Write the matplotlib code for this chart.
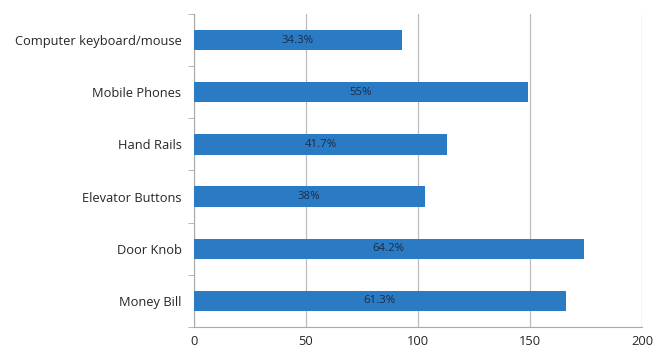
import matplotlib.pyplot as plt
import numpy as np

categories = ["Money Bill", "Door Knob", "Elevator Buttons", "Hand Rails",
              "Mobile Phones", "Computer keyboard/mouse"]
counts = [166, 174, 103, 113, 149, 93]
pct_labels = ["61.3%", "64.2%", "38%", "41.7%", "55%", "34.3%"]

plt.rcParams['font.family'] = ['Open Sans', 'DejaVu Sans']

fig = plt.figure(figsize=(6.55, 3.5), dpi=100)
ax = fig.add_axes([0.296, 0.066, 0.684, 0.894])

y = np.arange(len(categories))
bars = ax.barh(y, counts, height=0.39, color="#2a7bc4", zorder=3)
for b, lab in zip(bars, pct_labels):
    ax.text(b.get_width() / 2, b.get_y() + b.get_height() / 2, lab,
            ha="center", va="center", fontsize=8.2, color="#1c2b48", zorder=4)

ax.set_xlim(0, 200)
ax.set_ylim(-0.5, len(categories) - 0.5)
ax.set_xticks([0, 50, 100, 150, 200])
ax.set_yticks(y)
ax.set_yticklabels(categories, fontsize=9.3, color="#262626")
ax.set_yticks(np.arange(-0.5, len(categories), 1), minor=True)
ax.tick_params(axis="y", which="major", length=0, pad=9)
ax.tick_params(axis="y", which="minor", length=4, color="#aaaaaa")
ax.tick_params(axis="x", length=0, labelsize=9.3, labelcolor="#262626", pad=6)
ax.grid(axis="x", color="#bdbdbd", linewidth=0.9, zorder=0)

for s in ["top", "right"]:
    ax.spines[s].set_visible(False)
for s in ["left", "bottom"]:
    ax.spines[s].set_color("#aaaaaa")

plt.savefig("out.png", dpi=100)
